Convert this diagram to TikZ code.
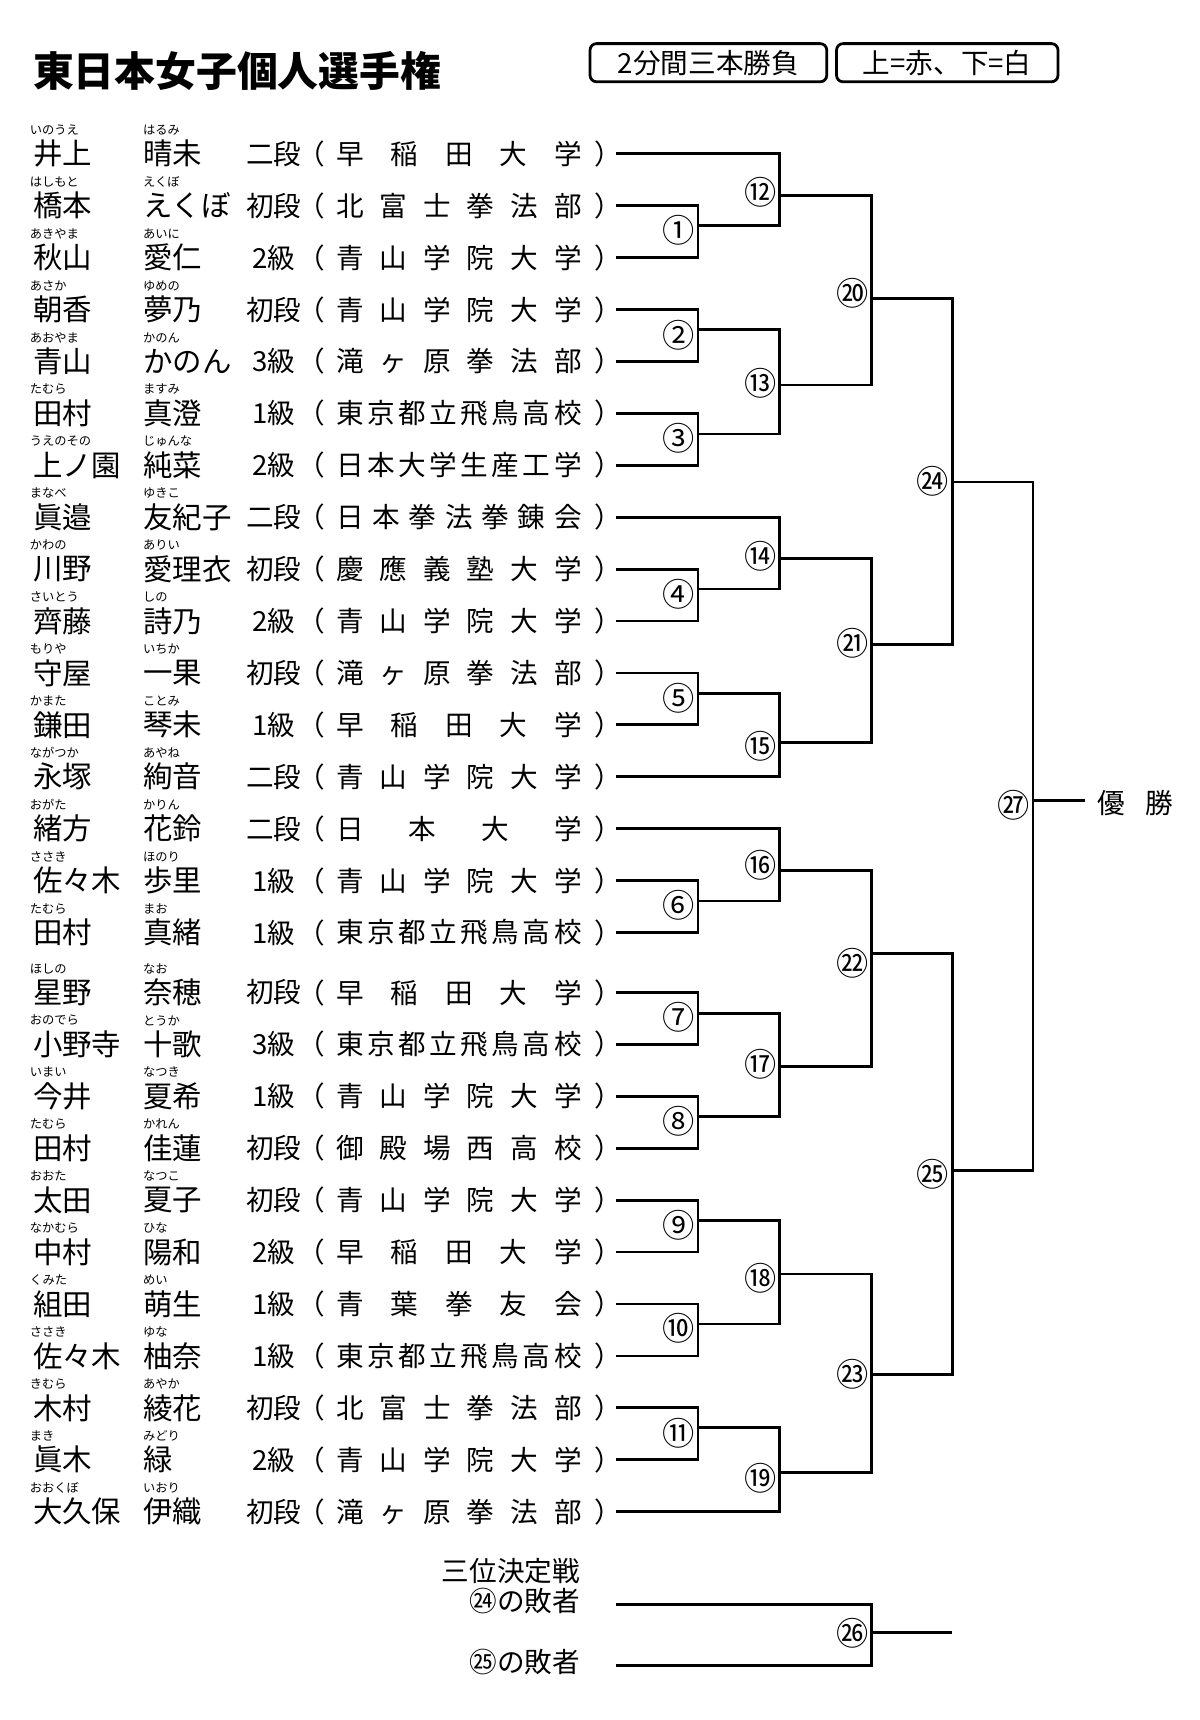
\documentclass[tikz,border=0pt]{standalone}
\usepackage{fontspec}
\setmainfont{Noto Sans CJK JP}
\usepackage{tikz}

% spread the characters of a club name over a fixed width
\newcommand\kintou[2]{\makebox[#1][s]{\expandafter\kintouA#2\relax}}
\def\kintouA#1{#1\kintouB}
\def\kintouB#1{\ifx#1\relax\else\hfill#1\expandafter\kintouB\fi}

\begin{document}
\begin{tikzpicture}[x=0.025cm, y=-0.025cm,
    line/.style={line width=1.8pt},
    furi/.style={anchor=west, inner sep=0pt, font=\fontsize{8pt}{9pt}\selectfont},
    person/.style={anchor=west, inner sep=0pt, font=\fontsize{19.2pt}{22pt}\selectfont},
    grade/.style={inner sep=0pt, font=\fontsize{18pt}{21pt}\selectfont},
    club/.style={anchor=west, inner sep=0pt, font=\fontsize{18pt}{21pt}\selectfont},
    num/.style={inner sep=0pt, font=\fontsize{21pt}{24pt}\selectfont},
    lbl/.style={inner sep=0pt, font=\fontsize{18pt}{21pt}\selectfont},
    tag/.style={draw, line width=1.8pt, rounded corners=0.15cm, minimum height=0.875cm, inner sep=0pt, font=\fontsize{18pt}{21pt}\selectfont}]

        \useasboundingbox (0,0) rectangle (1100,1577);

        \node[anchor=west, inner sep=0pt, font=\fontsize{26.6pt}{30pt}\selectfont\bfseries] (title) at (30,65) {東日本女子個人選手権};
        \node[tag, minimum width=5.425cm] (tag1) at (649.5,57.5) {2分間三本勝負};
        \node[tag, minimum width=5.075cm] (tag2) at (868.5,57.5) {上=赤、下=白};

        % entrants
        \foreach \i/\fk/\fam/\gk/\giv/\rank/\school in {
          1/いのうえ/井上/はるみ/晴未/二段/早稲田大学,
          2/はしもと/橋本/えくぼ/えくぼ/初段/北富士拳法部,
          3/あきやま/秋山/あいに/愛仁/2級/青山学院大学,
          4/あさか/朝香/ゆめの/夢乃/初段/青山学院大学,
          5/あおやま/青山/かのん/かのん/3級/滝ヶ原拳法部,
          6/たむら/田村/ますみ/真澄/1級/東京都立飛鳥高校,
          7/うえのその/上ノ園/じゅんな/純菜/2級/日本大学生産工学,
          8/まなべ/眞邉/ゆきこ/友紀子/二段/日本拳法拳錬会,
          9/かわの/川野/ありい/愛理衣/初段/慶應義塾大学,
          10/さいとう/齊藤/しの/詩乃/2級/青山学院大学,
          11/もりや/守屋/いちか/一果/初段/滝ヶ原拳法部,
          12/かまた/鎌田/ことみ/琴未/1級/早稲田大学,
          13/ながつか/永塚/あやね/絢音/二段/青山学院大学,
          14/おがた/緒方/かりん/花鈴/二段/日本大学,
          15/ささき/佐々木/ほのり/歩里/1級/青山学院大学,
          16/たむら/田村/まお/真緒/1級/東京都立飛鳥高校,
          17/ほしの/星野/なお/奈穂/初段/早稲田大学,
          18/おのでら/小野寺/とうか/十歌/3級/東京都立飛鳥高校,
          19/いまい/今井/なつき/夏希/1級/青山学院大学,
          20/たむら/田村/かれん/佳蓮/初段/御殿場西高校,
          21/おおた/太田/なつこ/夏子/初段/青山学院大学,
          22/なかむら/中村/ひな/陽和/2級/早稲田大学,
          23/くみた/組田/めい/萌生/1級/青葉拳友会,
          24/ささき/佐々木/ゆな/柚奈/1級/東京都立飛鳥高校,
          25/きむら/木村/あやか/綾花/初段/北富士拳法部,
          26/まき/眞木/みどり/緑/2級/青山学院大学,
          27/おおくぼ/大久保/いおり/伊織/初段/滝ヶ原拳法部}{
          \pgfmathsetmacro\y{141+(\i-1)*47.6+(\i>16)*7.4}
          \node[furi] (fk\i) at (27,\y-22) {\fk};
          \node[furi] (gk\i) at (131,\y-22) {\gk};
          \node[person] (fam\i) at (30,\y) {\fam};
          \node[person] (giv\i) at (131,\y) {\giv};
          \node[grade] (rank\i) at (251,\y) {\rank};
          \node[grade, anchor=east] (lp\i) at (298,\y) {（};
          \node[club] (club\i) at (308,\y) {\kintou{5.625cm}{\school}};
          \node[grade, anchor=west] (rp\i) at (545,\y) {）};
          \coordinate (p\i) at (565,\y);
        }

        % match points: number / x / y of the winner line
        \foreach \k/\x/\y in {1/640/207, 2/640/302, 3/640/398, 4/640/540, 5/640/636, 6/640/826,
            7/640/929, 8/640/1024, 9/640/1119, 10/640/1214, 11/640/1309,
            12/715/179, 13/715/353, 14/715/512, 15/715/681, 16/715/798, 17/715/978, 18/715/1168, 19/715/1350,
            20/799/274, 21/799/591, 22/799/874, 23/799/1260, 24/873/442, 25/873/1073, 27/947/734}
          \coordinate (m\k) at (\x,\y);

        \foreach \k/\a/\b in {1/p2/p3, 2/p4/p5, 3/p6/p7, 4/p9/p10, 5/p11/p12, 6/p15/p16,
            7/p17/p18, 8/p19/p20, 9/p21/p22, 10/p23/p24, 11/p25/p26,
            12/p1/m1, 13/m2/m3, 14/p8/m4, 15/m5/p13, 16/p14/m6, 17/m7/m8, 18/m9/m10, 19/m11/p27,
            20/m12/m13, 21/m14/m15, 22/m16/m17, 23/m18/m19, 24/m20/m21, 25/m22/m23, 27/m24/m25}
          \draw[line] (\a) -| (m\k) |- (\b);

        \foreach \k/\x/\y/\c in {1/640/211/①, 2/640/307/②, 3/640/402/③, 4/640/545/④, 5/640/640/⑤,
            6/640/830/⑥, 7/640/933/⑦, 8/640/1028/⑧, 9/640/1123/⑨, 10/640/1218/⑩, 11/640/1314/⑪,
            12/715/176/⑫, 13/715/351/⑬, 14/715/510/⑭, 15/715/684/⑮, 16/715/793/⑯, 17/715/976/⑰,
            18/715/1172/⑱, 19/715/1355/⑲, 20/799/269/⑳, 21/799/590/㉑, 22/799/883/㉒, 23/799/1260/㉓,
            24/873/441/㉔, 25/873/1077/㉕, 27/947/738/㉗}
          \node[num] (n\k) at (\x-17.5,\y) {\c};

        % final
        \coordinate (e27) at (995,734);
        \draw[line] (m27) -- (e27);
        \node[lbl, anchor=west] (yusho) at (1006,736) {優\hspace{0.72em}勝};

        % third place
        \node[lbl, anchor=east] (third) at (532,1440) {三位決定戦};
        \node[lbl, anchor=east] (lose24) at (532,1468) {㉔の敗者};
        \node[lbl, anchor=east] (lose25) at (532,1524) {㉕の敗者};
        \coordinate (t1) at (565,1471);
        \coordinate (t2) at (565,1527);
        \coordinate (m26) at (799,1497);
        \coordinate (e26) at (873,1497);
        \draw[line] (t1) -| (m26) |- (t2);
        \draw[line] (m26) -- (e26);
        \node[num] (n26) at (781.5,1497) {㉖};

      \end{tikzpicture}
\end{document}
